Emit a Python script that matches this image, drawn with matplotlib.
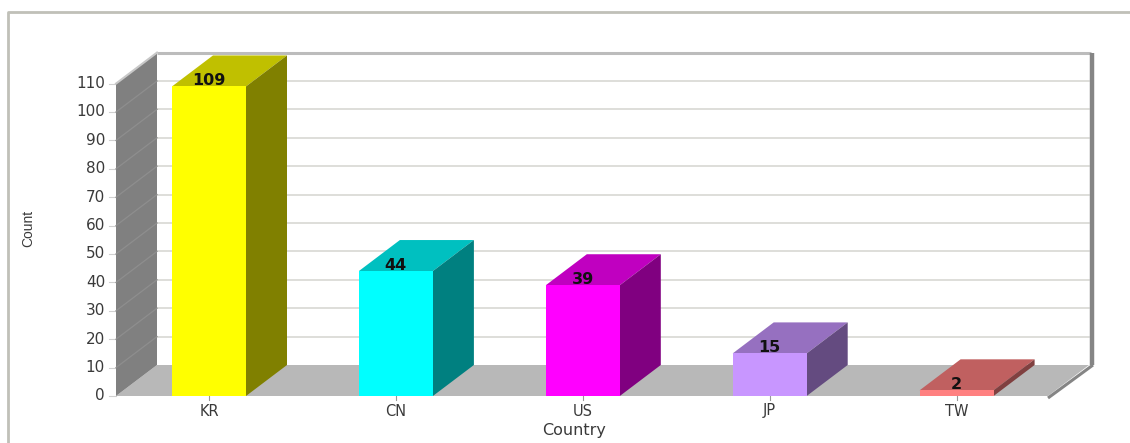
import matplotlib
matplotlib.use('Agg')
import matplotlib.pyplot as plt
from matplotlib.patches import Polygon

paises = ['KR', 'CN', 'US', 'JP', 'TW']
contagens = [109, 44, 39, 15, 2]
marcas_y = [0, 10, 20, 30, 40, 50, 60, 70, 80, 90, 100, 110]
cores_frente = ['#ffff00', '#00ffff', '#ff00ff', '#c896ff', '#ff8080']
cores_topo = ['#c0c000', '#00c0c0', '#c000c0', '#9670c0', '#c06060']
cores_lado = ['#808000', '#008080', '#800080', '#644b80', '#804040']

# escala: pixels por categoria e por unidade de contagem
px_x = 186.9
px_y = 2.84
# profundidade do efeito 3D
prof_x = 41 / px_x
prof_y = 31 / px_y
meia_barra = 37 / px_x

fig = plt.figure(figsize=(11.3, 4.43), dpi=100)
ax = fig.add_axes([0, 0, 1, 1])
ax.set_xlim((0 - 209) / px_x, (1130 - 209) / px_x)
ax.set_ylim(-47 / px_y, 396 / px_y)
ax.axis('off')

def x_pix(p):
    return (p - 209) / px_x

def y_pix(p):
    return (396 - p) / px_y

def poligono(pontos, cor, z):
    ax.add_patch(Polygon(pontos, closed=True, facecolor=cor, edgecolor='none', zorder=z))

# moldura externa
ax.plot([x_pix(8), x_pix(8), x_pix(1130)], [y_pix(443), y_pix(12), y_pix(12)],
        color='#c0c0b8', lw=2, zorder=1, solid_capstyle='butt')

esq, dir_ = x_pix(116), x_pix(1048)
topo = marcas_y[-1]

# chao
poligono([(esq, 0), (dir_, 0), (dir_ + prof_x, prof_y), (esq + prof_x, prof_y)], '#b8b8b8', 2)

# linhas de grade da parede do fundo
for v in marcas_y[1:-1]:
    ax.plot([esq + prof_x, dir_ + prof_x], [v + prof_y, v + prof_y], color='#d4d4d0', lw=1.1, zorder=2)
ax.plot([esq + prof_x, dir_ + prof_x + 2 / px_x], [topo + prof_y, topo + prof_y],
        color='#bcbcbc', lw=2.2, zorder=2, solid_capstyle='butt')

# parede esquerda
poligono([(esq, 0), (esq + prof_x, prof_y), (esq + prof_x, topo + prof_y), (esq, topo)], '#808080', 3)
for v in marcas_y[1:-1]:
    ax.plot([esq, esq + prof_x], [v, v + prof_y], color='#8e8e8e', lw=0.9, zorder=3)
ax.plot([esq, esq + prof_x], [topo, topo + prof_y], color='#c8c8c8', lw=1.5, zorder=3)

# parede direita (fina)
ax.plot([dir_ + prof_x + 2.5 / px_x] * 2, [prof_y, topo + prof_y], color='#858585', lw=3.2, zorder=3,
        solid_capstyle='butt')
ax.plot([dir_, dir_ + prof_x + 4 / px_x], [-2 / px_y, prof_y], color='#858585', lw=2.2, zorder=3,
        solid_capstyle='butt')

# barras
for i, v in enumerate(contagens):
    e, d = i - meia_barra, i + meia_barra
    poligono([(e, v), (d, v), (d + prof_x, v + prof_y), (e + prof_x, v + prof_y)], cores_topo[i], 4)
    poligono([(d, 0), (d + prof_x, prof_y), (d + prof_x, v + prof_y), (d, v)], cores_lado[i], 4)
    poligono([(e, 0), (d, 0), (d, v), (e, v)], cores_frente[i], 5)
    ax.text(i, v + 6 / px_y, str(v), ha='center', va='center', fontsize=11.5,
            fontweight='bold', color='#111111', zorder=6)

# eixo y
for v in marcas_y:
    ax.plot([x_pix(109), esq], [v, v], color='#d0d0d0', lw=0.8, zorder=2)
    ax.text(x_pix(105), v, str(v), ha='right', va='center', fontsize=11, color='#3a3a3a')

# eixo x
for i, nome in enumerate(paises):
    ax.plot([i, i], [0, -4 / px_y], color='#999999', lw=0.8, zorder=2)
    ax.text(i, y_pix(411), nome, ha='center', va='center', fontsize=10.5, color='#3a3a3a')

ax.text(x_pix(574), y_pix(431), 'Country', ha='center', va='center', fontsize=11.5, color='#3a3a3a')
ax.text(x_pix(28), y_pix(228), 'Count', ha='center', va='center', rotation=90, fontsize=10,
        color='#3a3a3a', family='Liberation Sans')

fig.savefig('out.png', dpi=100)
